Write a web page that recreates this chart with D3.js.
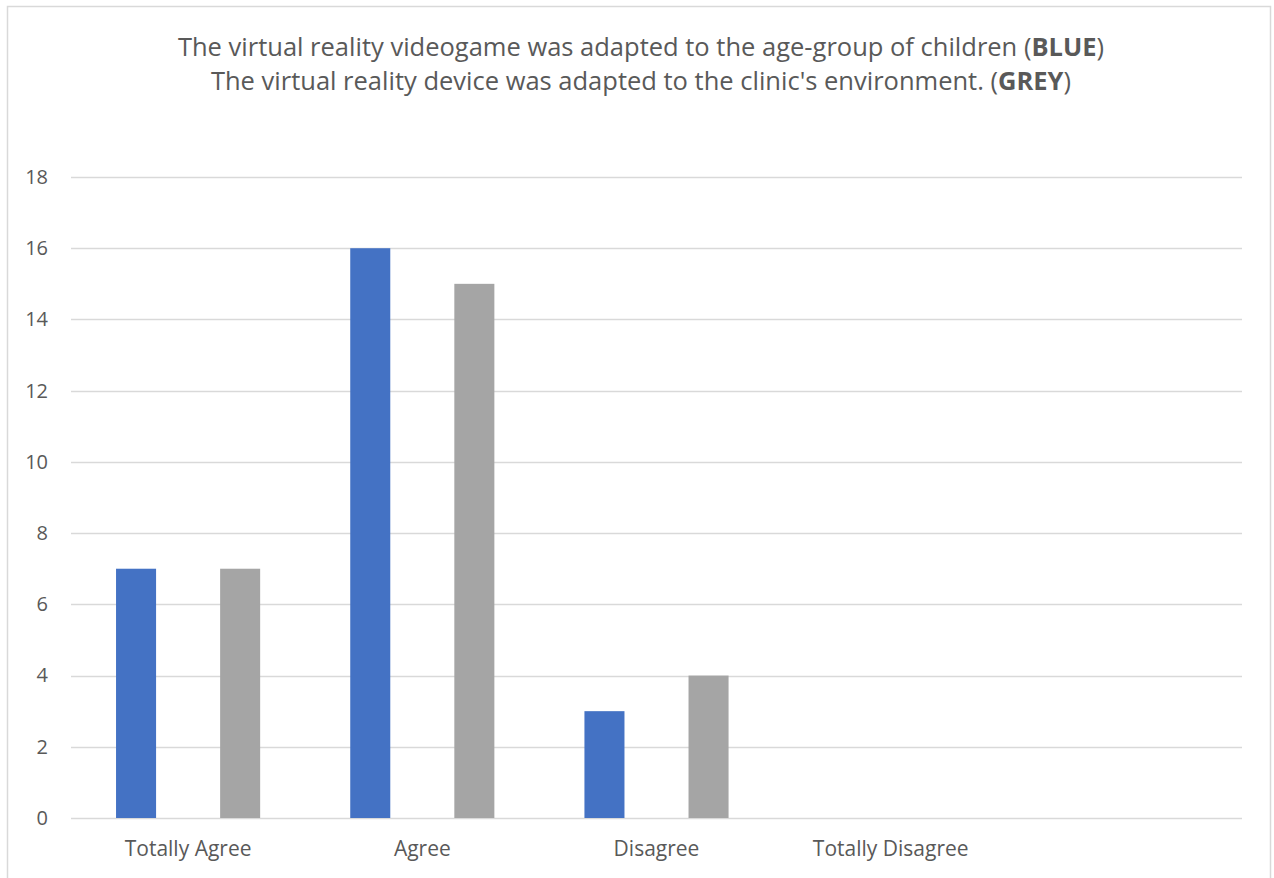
<!DOCTYPE html>
<html>
<head>
<meta charset="utf-8">
<script src="https://cdn.jsdelivr.net/npm/d3@7"></script>
<style>
  html, body { margin: 0; padding: 0; background: #fff; }
  svg { display: block; }
  text { font-family: "Open Sans", "Liberation Sans", sans-serif; fill: #595959; }
</style>
</head>
<body>
<svg id="chart" width="1274" height="878"></svg>
<script>
// Survey answers per response category
const categories = ["Totally Agree", "Agree", "Disagree", "Totally Disagree", ""];
const seriesNames = ["videogame", "device"];
const videogameCounts = [7, 16, 3, 0, 0];
const deviceCounts = [7, 15, 4, 0, 0];
const yTicks = [0, 2, 4, 6, 8, 10, 12, 14, 16, 18];
const titleLines = [
  ["The virtual reality videogame was adapted to the age-group of children (", "BLUE", ")"],
  ["The virtual reality device was adapted to the clinic's environment. (", "GREY", ")"]
];
const colors = { videogame: "#4472c4", device: "#a5a5a5" };

const svg = d3.select("#chart");
const W = 1274, H = 878;
const plot = { left: 71, right: 1242, top: 177, bottom: 818 };

// outer frame (open at the bottom edge)
svg.append("path")
  .attr("d", `M7.5,${H} V6.5 H1270.5 V${H}`)
  .attr("fill", "none")
  .attr("stroke", "#d9d9d9")
  .attr("stroke-width", 1.5);

// title
const title = svg.append("text")
  .attr("text-anchor", "middle")
  .attr("font-size", 25.5);
titleLines.forEach((parts, i) => {
  const line = title.append("tspan")
    .attr("x", 641)
    .attr("y", 56 + i * 34);
  line.append("tspan").text(parts[0]);
  line.append("tspan").attr("font-weight", "bold").text(parts[1]);
  line.append("tspan").text(parts[2]);
});

const x = d3.scaleBand()
  .domain(categories.map((c, i) => i))
  .range([plot.left, plot.right])
  .padding(0);

const y = d3.scaleLinear()
  .domain([0, 18])
  .range([plot.bottom, plot.top]);

// position of each series' bar inside a category band
const bw = x.bandwidth();
const xs = d3.scalePoint()
  .domain(seriesNames)
  .range([bw * 65 / 234, bw * 169 / 234]);
const barW = bw * 40 / 234;

// gridlines
svg.append("g")
  .selectAll("line")
  .data(yTicks)
  .join("line")
  .attr("x1", plot.left)
  .attr("x2", plot.right)
  .attr("y1", d => Math.round(y(d)) + 0.5)
  .attr("y2", d => Math.round(y(d)) + 0.5)
  .attr("stroke", "#d9d9d9")
  .attr("stroke-width", 1.5);

// y axis labels
const yAxis = d3.axisLeft(y).tickValues(yTicks).tickSize(0).tickPadding(0);
svg.append("g")
  .attr("transform", `translate(48,0)`)
  .call(yAxis)
  .call(g => g.select(".domain").remove())
  .call(g => g.selectAll("text")
    .attr("font-size", 20)
    .attr("font-family", "'Open Sans', 'Liberation Sans', sans-serif")
    .attr("fill", "#595959"));

// bars
const rows = categories.map((c, i) => ({
  i,
  values: [
    { key: "videogame", v: videogameCounts[i] },
    { key: "device", v: deviceCounts[i] }
  ]
}));

svg.append("g")
  .selectAll("g")
  .data(rows)
  .join("g")
  .attr("transform", d => `translate(${x(d.i)},0)`)
  .selectAll("rect")
  .data(d => d.values.filter(e => e.v > 0))
  .join("rect")
  .attr("x", d => xs(d.key) - barW / 2)
  .attr("width", barW)
  .attr("y", d => y(d.v))
  .attr("height", d => y(0) - y(d.v))
  .attr("fill", d => colors[d.key]);

// category labels
const xAxis = d3.axisBottom(x).tickFormat(i => categories[i]).tickSize(0).tickPadding(0);
svg.append("g")
  .attr("transform", `translate(0,841)`)
  .call(xAxis)
  .call(g => g.select(".domain").remove())
  .call(g => g.selectAll("text")
    .attr("font-size", 21)
    .attr("font-family", "'Open Sans', 'Liberation Sans', sans-serif")
    .attr("fill", "#595959"));
</script>
</body>
</html>
